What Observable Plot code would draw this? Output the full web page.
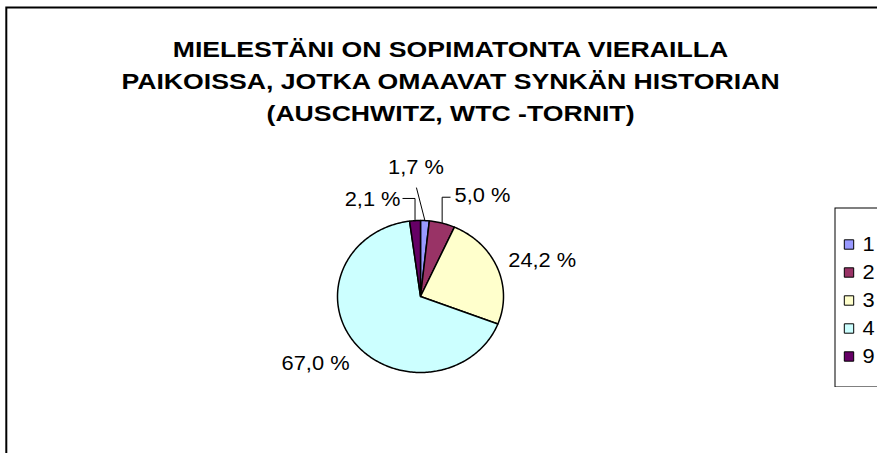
<!DOCTYPE html>
<html><head><meta charset="utf-8">
<script src="https://cdn.jsdelivr.net/npm/d3@7"></script>
<script src="https://cdn.jsdelivr.net/npm/@observablehq/plot@0.6"></script>
<style>
html,body{margin:0;padding:0;background:#fff;}
#wrap{position:relative;width:877px;height:453px;overflow:hidden;font-family:"Liberation Sans",Arial,sans-serif;}
#main{position:absolute;left:0;top:0;}
#legend{position:absolute;left:834px;top:207px;width:60px;}
#wrap svg{max-width:none !important;}
</style></head>
<body><div id="wrap"><div id="main"></div><div id="legend"></div></div>
<script>
// ---- data ----
const categories = ["1", "2", "3", "4", "9"];
const values = [1.7, 5.0, 24.2, 67.0, 2.1];
const valueLabels = ["1,7 %", "5,0 %", "24,2 %", "67,0 %", "2,1 %"];
const colors = ["#9999FF", "#993366", "#FFFFCC", "#CCFFFF", "#660066"];
const titleLines = [
  "MIELESTÄNI ON SOPIMATONTA VIERAILLA",
  "PAIKOISSA, JOTKA OMAAVAT SYNKÄN HISTORIAN",
  "(AUSCHWITZ, WTC -TORNIT)"
];

// ---- layout (pixels) ----
const W = 877, H = 453;
const CX = 420, CY = 296, RX = 83, RY = 76;   // pie centre and radii
const CHART_LEFT = 5, CHART_RIGHT = 895;        // chart area (extends past the crop)
const TITLE_STRETCH = 1.24, LABEL_STRETCH = 1.12;
// label anchor offsets from slice edge midpoint, in pixels
const labelOffsetPx = [[-9, -53], [12.4, -27.6], [11, -7.1], [-5.7, 20], [-14.5, -21.2]];
const labelAnchor = ["middle", "start", "start", "end", "end"];
const leaderKind = ["straight", "elbow", null, null, "elbow"];

const rows = categories.map((c, i) => ({cat: c, value: values[i], label: valueLabels[i], i}));
const arcs = d3.pie().sort(null).value(d => d.value)(rows);

// slice polygons in unit (ellipse) coordinates
const piePts = arcs.flatMap(s => {
  const n = Math.max(2, Math.ceil((s.endAngle - s.startAngle) / (Math.PI / 180)));
  const pts = [{cat: s.data.cat, x: 0, y: 0}];
  for (let k = 0; k <= n; k++) {
    const a = s.startAngle + (s.endAngle - s.startAngle) * k / n;
    pts.push({cat: s.data.cat, x: Math.sin(a), y: Math.cos(a)});
  }
  return pts;
});

const pxX = p => p / RX, pxY = p => -p / RY; // pixel offset -> unit offset
const labels = arcs.map(s => {
  const m = (s.startAngle + s.endAngle) / 2;
  const ex = Math.sin(m), ey = Math.cos(m);
  const [ox, oy] = labelOffsetPx[s.data.i];
  return {...s.data, ex, ey, lx: ex + pxX(ox), ly: ey + pxY(oy), anchor: labelAnchor[s.data.i]};
});

const leaders = labels.flatMap(d => {
  const kind = leaderKind[d.i];
  if (!kind) return [];
  if (kind === "straight") {
    return [{cat: d.cat, x: d.lx + pxX(0.5), y: d.ly + pxY(20)}, {cat: d.cat, x: d.ex, y: d.ey}];
  }
  const sx = d.anchor === "start" ? d.lx + pxX(-4) : d.lx + pxX(2);
  const sy = d.ly + pxY(d.anchor === "start" ? 1.7 : -1);
  return [{cat: d.cat, x: sx, y: sy}, {cat: d.cat, x: d.ex, y: sy}, {cat: d.cat, x: d.ex, y: d.ey}];
});

const font = "Liberation Sans, Arial, sans-serif";

function stretchText(svg, cls, s) {
  d3.select(svg).selectAll("." + cls + " text").each(function () {
    const t = this.getAttribute("transform");
    if (t) {
      this.setAttribute("transform", t + ` scale(${s},1)`);
    } else {
      const x = +this.getAttribute("x") || 0, y = +this.getAttribute("y") || 0;
      this.removeAttribute("x"); this.removeAttribute("y");
      this.setAttribute("transform", `translate(${x},${y}) scale(${s},1)`);
    }
  });
  return svg;
}

const main = Plot.plot({
  width: W, height: H, margin: 0,
  x: {domain: [-1, 1], range: [CX - RX, CX + RX], axis: null},
  y: {domain: [-1, 1], range: [CY + RY, CY - RY], axis: null},
  color: {domain: categories, range: colors},
  style: {fontFamily: font, background: "white"},
  marks: [
    Plot.frame({stroke: "black", strokeWidth: 2, insetLeft: CHART_LEFT + 0.8, insetTop: 7, insetRight: W - CHART_RIGHT, insetBottom: -10}),
    Plot.text([titleLines.join("\n")], {
      frameAnchor: "top", dx: (CHART_LEFT + CHART_RIGHT) / 2 - W / 2, lineAnchor: "top", dy: 34,
      text: d => d, fontSize: 21.5, fontWeight: "bold", lineHeight: 1.49, fill: "black", className: "ttl"
    }),
    Plot.line(piePts, {x: "x", y: "y", z: "cat", fill: "cat", stroke: "black", strokeWidth: 1.5, curve: "linear-closed"}),
    Plot.line(leaders, {x: "x", y: "y", z: "cat", stroke: "black", strokeWidth: 1, strokeLinecap: "butt"}),
    ...["start", "middle", "end"].map(a =>
      Plot.text(labels.filter(d => d.anchor === a), {
        x: "lx", y: "ly", text: "label", textAnchor: a, fontSize: 19.5, fill: "black", className: "lbl"
      })
    )
  ]
});
stretchText(main, "ttl", TITLE_STRETCH);
stretchText(main, "lbl", LABEL_STRETCH);
document.getElementById("main").append(main);

const legend = Plot.plot({
  width: 60, height: 180, margin: 0,
  y: {type: "point", domain: categories, range: [20.5, 164.5], axis: null},
  color: {domain: categories, range: colors},
  style: {fontFamily: font, background: "white"},
  marks: [
    Plot.frame({stroke: "black", strokeWidth: 1, insetLeft: 0.5, insetTop: 0.5, insetBottom: 0.5, insetRight: -5}),
    Plot.dot(categories, {y: d => d, fill: d => d, stroke: "black", strokeWidth: 1, symbol: "square", r: 5.3, frameAnchor: "left", dx: 14.5}),
    Plot.text(categories, {y: d => d, text: d => d, frameAnchor: "left", dx: 28, textAnchor: "start", fontSize: 19.5, fill: "black", className: "lbl"})
  ]
});
stretchText(legend, "lbl", LABEL_STRETCH);
document.getElementById("legend").append(legend);
</script>
</body></html>
